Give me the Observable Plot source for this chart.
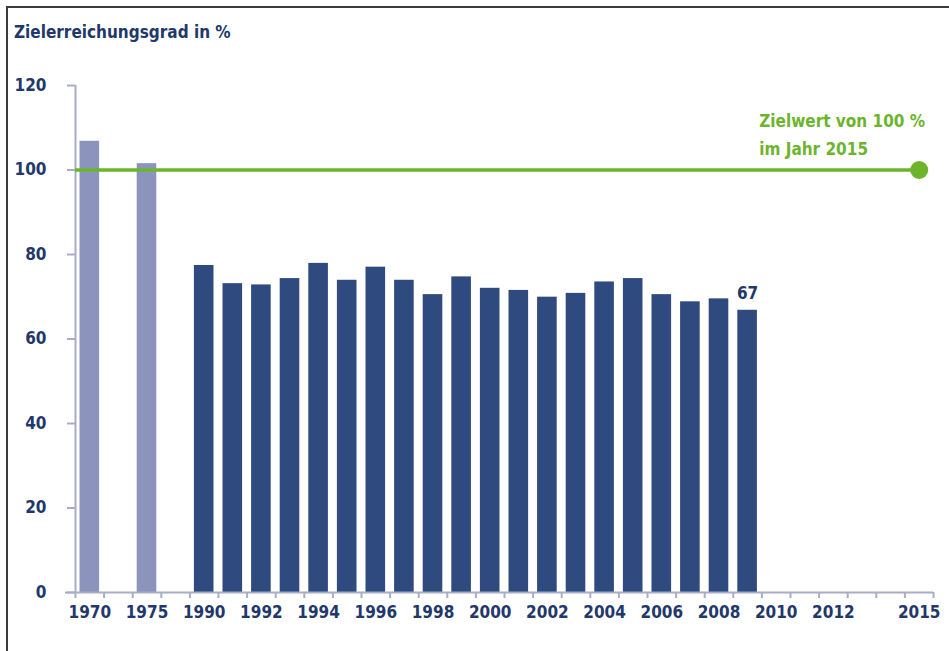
<!DOCTYPE html>
<html><head><meta charset="utf-8">
<script src="https://cdn.jsdelivr.net/npm/d3@7"></script>
<script src="https://cdn.jsdelivr.net/npm/@observablehq/plot@0.6"></script>
<style>
body{margin:0;background:#fff;}
#wrap{position:relative;width:949px;height:651px;overflow:hidden;background:#fff;}
#frame{position:absolute;left:6px;top:6px;width:960px;height:660px;border-top:2px solid #3c3c3c;border-left:2px solid #3c3c3c;pointer-events:none;}
#title{position:absolute;left:14px;top:22px;font:bold 17px "DejaVu Sans Condensed","DejaVu Sans";font-stretch:condensed;color:#22386a;white-space:nowrap;}
#chart{position:absolute;left:0;top:0;}
</style></head>
<body>
<div id="wrap">
  <div id="chart"></div>
  <div id="title">Zielerreichungsgrad in %</div>
  <div id="frame"></div>
</div>
<script>
// categories along the x axis (gaps are empty bands)
const categories = ["1970","gap1","1975","gap2",
  "1990","1991","1992","1993","1994","1995","1996","1997","1998","1999",
  "2000","2001","2002","2003","2004","2005","2006","2007","2008","2009",
  "2010","2011","2012","2013","2014","2015"];
const xTickLabels = ["1970","1975","1990","1992","1994","1996","1998","2000","2002","2004","2006","2008","2010","2012","2015"];
const yTicks = [0,20,40,60,80,100,120];

const earlyYears = ["1970","1975"];
const earlyValues = [106.8, 101.5];
const recentYears = ["1990","1991","1992","1993","1994","1995","1996","1997","1998","1999",
  "2000","2001","2002","2003","2004","2005","2006","2007","2008","2009"];
const recentValues = [77.4,73.1,72.8,74.3,77.9,73.9,77.0,73.9,70.5,74.7,
  72.0,71.5,69.9,70.8,73.5,74.3,70.5,68.8,69.5,66.8];
const targetYear = "2015";
const targetValue = 100;
const targetLabel = "Zielwert von 100 %\nim Jahr 2015";
const lastLabel = "67";

const early = earlyYears.map((y,i)=>({year:y, value:earlyValues[i]}));
const recent = recentYears.map((y,i)=>({year:y, value:recentValues[i]}));

const W = 949, H = 651, mL = 75, mR = 16, mT = 85, mB = 59;
const bw = (W - mL - mR) / categories.length;
const font = '"DejaVu Sans Condensed","DejaVu Sans",sans-serif';
const navy = "#22386a", gray = "#a7adc6", green = "#6db42d";

const chart = Plot.plot({
  width: W, height: H,
  marginLeft: mL, marginRight: mR, marginTop: mT, marginBottom: mB,
  style: {fontFamily: font, fontSize: "17px", fontWeight: "bold", fontStretch: "condensed", background: "transparent", overflow: "visible"},
  x: {type: "band", domain: categories, paddingInner: 0, paddingOuter: 0, round: false},
  y: {domain: [0, 120]},
  marks: [
    Plot.axisY({ticks: yTicks, tickSize: 8, tickPadding: 21, stroke: gray, strokeWidth: 2, fill: navy, label: null, fontSize: 17}),
    Plot.axisX({ticks: xTickLabels, tickSize: 0, tickPadding: 13, fill: navy, label: null, fontSize: 17}),
    Plot.barY(early, {x: "year", y: "value", fill: "#8a94bc", insetLeft: 4.5, insetRight: 4.5}),
    Plot.barY(recent, {x: "year", y: "value", fill: "#2e4a7f", insetLeft: 4.5, insetRight: 4.5}),
    // y axis line
    Plot.ruleX([categories[0]], {x: d => d, dx: -bw/2, y1: 0, y2: 120, stroke: gray, strokeWidth: 2}),
    // x axis line
    Plot.ruleY([0], {stroke: gray, strokeWidth: 2, insetLeft: -10}),
    // x tick marks at band edges
    Plot.ruleX(categories, {x: d => d, dx: -bw/2, y1: 0, y2: 0, insetBottom: -6, stroke: gray, strokeWidth: 2}),
    Plot.ruleX([categories[categories.length-1]], {x: d => d, dx: bw/2, y1: 0, y2: 0, insetBottom: -6, stroke: gray, strokeWidth: 2}),
    // target line and dot
    Plot.ruleY([targetValue], {x1: () => categories[0], x2: () => targetYear, insetRight: bw/2, stroke: green, strokeWidth: 3.5}),
    Plot.dot([{year: targetYear, value: targetValue}], {x: "year", y: "value", r: 9, fill: green}),
    Plot.text([targetLabel], {x: () => "2010", y: () => targetValue, text: d => d, textAnchor: "start", dx: -17, dy: -38, lineHeight: 1.65, fill: green, fontSize: 17, fontWeight: "bold"}),
    Plot.text([recent[recent.length-1]], {x: "year", y: "value", text: () => lastLabel, dy: -17, fill: navy, fontSize: 17, fontWeight: "bold"})
  ]
});
document.getElementById("chart").appendChild(chart);
</script>
</body></html>
